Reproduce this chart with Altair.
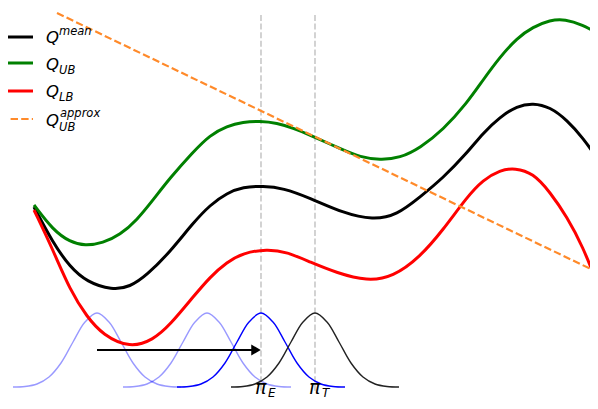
import altair as alt
import pandas as pd

# ---- data (pixel-like units, y grows downward) ----
green_x = [34, 53, 70, 85, 103, 120, 137, 153, 170, 193, 210, 227, 243, 260, 277, 293, 310, 343, 360, 380,
           400, 420, 443, 467, 483, 500, 517, 533, 550, 565, 583, 597]
green_y = [205, 230, 242, 246, 243, 235, 220, 200, 178, 152, 135, 126, 122, 121, 123, 128, 135, 150, 157, 160,
           158, 148, 130, 103, 80, 57, 38, 27, 20, 19, 25, 33]

black_x = [34, 53, 70, 87, 112, 130, 147, 170, 193, 210, 227, 243, 263, 283, 310, 343, 373, 397, 420, 443,
           467, 483, 500, 517, 533, 550, 567, 583, 597]
black_y = [207, 243, 267, 282, 290, 287, 275, 252, 223, 205, 193, 187, 186, 188, 198, 213, 220, 215, 197, 178,
           153, 133, 117, 106, 103, 107, 120, 138, 158]

red_x = [34, 53, 70, 87, 103, 130, 153, 170, 193, 210, 227, 243, 267, 287, 310, 337, 367, 393, 420, 443,
         467, 483, 500, 515, 533, 550, 567, 583, 597]
red_y = [210, 250, 290, 317, 335, 348, 340, 325, 297, 277, 262, 253, 249, 252, 262, 273, 281, 277, 257, 230,
         197, 180, 170, 168, 173, 192, 217, 247, 283]

approx_x = [57, 597]
approx_y = [13, 272]

gauss_off = [-84, -72, -60, -48, -36, -24, -12, 0, 12, 24, 36, 48, 60, 72, 84]
gauss_val = [387, 386.5, 384, 377, 363, 342, 322, 313, 322, 342, 363, 377, 384, 386.5, 387]
light_centers = [97, 207]
pi_e_x = 261
pi_t_x = 315

vline_x = [pi_e_x, pi_t_x]
vline_top, vline_bottom = 15, 392

arrow_x0, arrow_x1, arrow_y = 97, 252, 350

legend_names = ["mean", "UB", "LB", "approx"]
legend_y = [37, 63, 91, 119]

# ---- tables ----
def frame(xs, ys, name):
    return pd.DataFrame({"x": xs, "y": ys, "s": name})

curves = pd.concat([
    frame(black_x, black_y, "mean"),
    frame(green_x, green_y, "UB"),
    frame(red_x, red_y, "LB"),
])
approx = frame(approx_x, approx_y, "approx")

gl = []
for i, c in enumerate(light_centers):
    gl.append(pd.DataFrame({"x": [c + o for o in gauss_off], "y": gauss_val, "g": f"l{i}"}))
light = pd.concat(gl)
blue = pd.DataFrame({"x": [pi_e_x + o for o in gauss_off], "y": gauss_val})
blk = pd.DataFrame({"x": [pi_t_x + o for o in gauss_off], "y": gauss_val})

vlines = pd.DataFrame({"x": vline_x, "y": [vline_top] * 2, "y2": [vline_bottom] * 2})
shaft = pd.DataFrame({"x": [arrow_x0], "x2": [arrow_x1], "y": [arrow_y]})
head = pd.DataFrame({"x": [arrow_x1 + 4], "y": [arrow_y]})

leg_lines = pd.DataFrame({"x": [0] * 4, "x2": [33] * 4, "y": legend_y, "s": legend_names})

texts = pd.DataFrame({
    "x": [46, 59, 46, 59, 46, 59, 46, 60, 59, 255, 268, 309, 322],
    "y": [43, 35, 70, 74, 97, 101, 126, 117, 131, 394, 397, 394, 397],
    "t": ["Q", "mean", "Q", "UB", "Q", "LB", "Q", "approx", "UB", "π", "E", "π", "T"],
    "size": [16.5, 11.5, 16.5, 11.5, 16.5, 11.5, 16.5, 11.5, 11.5, 19, 12, 19, 12],
})

X = lambda f="x": alt.X(f"{f}:Q", scale=alt.Scale(domain=[8, 590], nice=False, zero=False), axis=None)
Y = lambda f="y": alt.Y(f"{f}:Q", scale=alt.Scale(domain=[8, 401], nice=False, zero=False, reverse=True), axis=None)

color_scale = alt.Scale(domain=["mean", "UB", "LB", "approx"], range=["#000000", "#008000", "#ff0000", "#ff8a2a"])

vl = alt.Chart(vlines).mark_rule(color="#c8c8c8", strokeWidth=1.6, strokeDash=[6, 2.6]).encode(
    x=X(), y=Y(), y2="y2:Q")

gauss_light = alt.Chart(light).mark_line(color="blue", opacity=0.4, strokeWidth=1.4, interpolate="catmull-rom").encode(
    x=X(), y=Y(), detail="g:N", order="x:Q")
gauss_blue = alt.Chart(blue).mark_line(color="blue", strokeWidth=1.4, interpolate="catmull-rom").encode(
    x=X(), y=Y(), order="x:Q")
gauss_blk = alt.Chart(blk).mark_line(color="#222222", strokeWidth=1.4, interpolate="catmull-rom").encode(
    x=X(), y=Y(), order="x:Q")

main = alt.Chart(curves).mark_line(strokeWidth=3, interpolate="basis").encode(
    x=X(), y=Y(), color=alt.Color("s:N", scale=color_scale, legend=None), detail="s:N", order="x:Q")

appr = alt.Chart(approx).mark_line(color="#ff8a2a", strokeWidth=2.2, strokeDash=[7.4, 3.2]).encode(
    x=X(), y=Y())

arrow_shaft = alt.Chart(shaft).mark_rule(color="black", strokeWidth=1.8).encode(x=X(), x2="x2:Q", y=Y())
arrow_head = alt.Chart(head).mark_point(shape="triangle-right", filled=True, color="black", size=120, opacity=1).encode(
    x=X(), y=Y())

leg_solid = alt.Chart(leg_lines[leg_lines.s != "approx"]).mark_rule(strokeWidth=3).encode(
    x=X(), x2="x2:Q", y=Y(), color=alt.Color("s:N", scale=color_scale, legend=None))
leg_dash = alt.Chart(leg_lines[leg_lines.s == "approx"]).mark_rule(strokeWidth=2.2, strokeDash=[7.4, 3.2]).encode(
    x=X(), x2="x2:Q", y=Y(), color=alt.Color("s:N", scale=color_scale, legend=None))

labels = alt.Chart(texts).mark_text(align="left", baseline="alphabetic", font="DejaVu Sans",
                                    fontStyle="italic", color="black").encode(
    x=X(), y=Y(), text="t:N", size=alt.Size("size:Q", scale=None))

chart = alt.layer(vl, gauss_light, gauss_blue, gauss_blk, main, appr, arrow_shaft, arrow_head,
                  leg_solid, leg_dash, labels).properties(
    width=582, height=393, padding=0, autosize=alt.AutoSizeParams(type="none")
).configure_view(stroke=None)

chart.save("out.html", embed_options={"renderer": "svg", "actions": False})
